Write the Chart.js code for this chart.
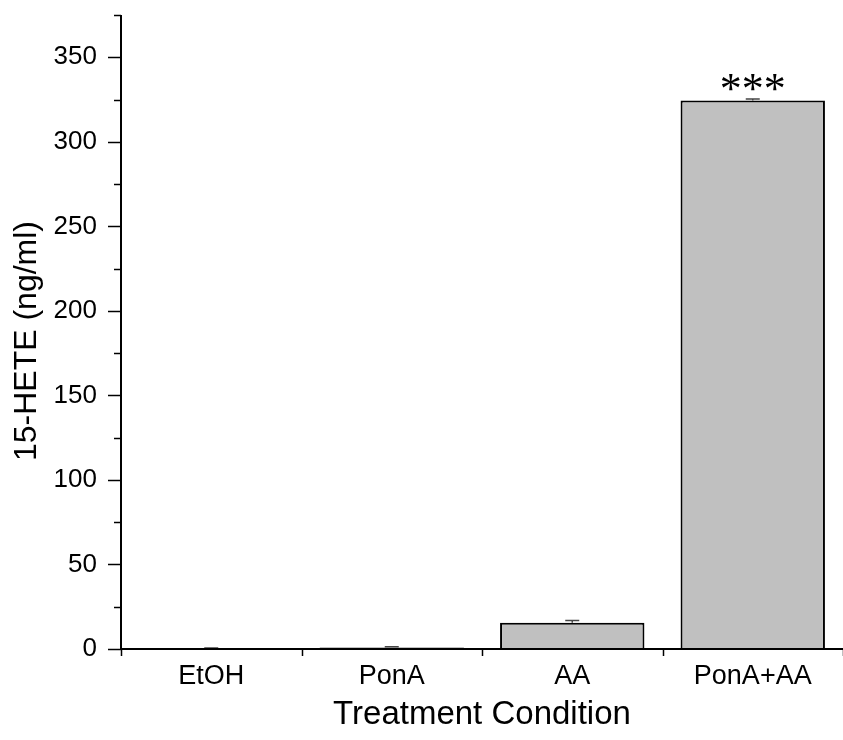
<!DOCTYPE html>
<html>
<head>
<meta charset="utf-8">
<script src="https://cdn.jsdelivr.net/npm/chart.js@4"></script>
<style>
  html, body { margin: 0; padding: 0; background: #fff; }
  #wrap { width: 843px; height: 740px; }
</style>
</head>
<body>
<div id="wrap"><canvas id="chart" width="843" height="740"></canvas></div>
<script>
// data
const categories = ['EtOH', 'PonA', 'AA', 'PonA+AA'];
const values = [0.4, 0.9, 15.5, 324.5];
const errors = [0.2, 0.5, 1.3, 0.8];
const stars = ['', '', '', '***'];
const yMax = 375;
const yTitle = '15-HETE (ng/ml)';

// axes, ticks, error bars, stars and the y title drawn on top
const extras = {
    id: 'extras',
    afterDatasetsDraw(chart) {
        const ctx = chart.ctx;
        const y = chart.scales.y;
        const area = chart.chartArea;
        ctx.save();

        // error bars (upper half, the lower half sits inside the bar)
        ctx.strokeStyle = '#444';
        ctx.lineWidth = 1.5;
        const meta = chart.getDatasetMeta(0);
        values.forEach((v, i) => {
            const cx = meta.data[i].x;
            const top = y.getPixelForValue(v + errors[i]);
            const mid = y.getPixelForValue(v);
            ctx.beginPath();
            ctx.moveTo(cx, mid); ctx.lineTo(cx, top);
            ctx.moveTo(cx - 7, top); ctx.lineTo(cx + 7, top);
            ctx.stroke();
        });

        // axis lines
        ctx.strokeStyle = '#000';
        ctx.lineWidth = 2;
        ctx.beginPath();
        ctx.moveTo(area.left, area.top);
        ctx.lineTo(area.left, area.bottom);
        ctx.lineTo(area.right, area.bottom);
        ctx.stroke();

        // y ticks: major every 50, minor in between
        ctx.lineWidth = 1.5;
        for (let v = 0; v <= yMax; v += 25) {
            const py = Math.round(y.getPixelForValue(v)) + 0.5;
            const len = v % 50 === 0 ? 13 : 7;
            ctx.beginPath();
            ctx.moveTo(area.left - len, py);
            ctx.lineTo(area.left, py);
            ctx.stroke();
        }

        // x ticks on category boundaries, pointing down
        const w = (area.right - area.left) / categories.length;
        for (let i = 0; i <= categories.length; i++) {
            const px = Math.round(area.left + i * w) + 0.5;
            ctx.beginPath();
            ctx.moveTo(px, area.bottom);
            ctx.lineTo(px, area.bottom + 7);
            ctx.stroke();
        }

        // significance stars
        ctx.fillStyle = '#000';
        ctx.font = '44px "Liberation Serif", serif';
        ctx.textAlign = 'center';
        ctx.textBaseline = 'alphabetic';
        stars.forEach((s, i) => {
            if (!s) return;
            const cx = meta.data[i].x;
            const py = y.getPixelForValue(values[i] + errors[i]);
            ctx.fillText(s, cx, py + 4);
        });

        // y title, a bit below the middle like the original
        ctx.font = '32px "Liberation Sans", sans-serif';
        ctx.textBaseline = 'middle';
        ctx.translate(27, (area.top + area.bottom) / 2 + 9);
        ctx.rotate(-Math.PI / 2);
        ctx.fillText(yTitle, 0, 0);
        ctx.restore();
    }
};

new Chart(document.getElementById('chart'), {
    type: 'bar',
    data: {
        labels: categories,
        datasets: [{
            data: values,
            backgroundColor: '#c0c0c0',
            borderColor: '#000',
            borderWidth: 2,
            barPercentage: 0.8,
            categoryPercentage: 1.0
        }]
    },
    options: {
        responsive: false,
        animation: false,
        layout: { padding: { top: 15, right: 0, left: 0, bottom: 0 } },
        plugins: { legend: { display: false }, tooltip: { enabled: false } },
        scales: {
            x: {
                grid: { display: false, drawTicks: false },
                border: { display: false },
                ticks: { color: '#000', font: { family: 'Liberation Sans', size: 27 }, padding: 11 },
                title: {
                    display: true, text: 'Treatment Condition', color: '#000',
                    font: { family: 'Liberation Sans', size: 33 }, padding: { top: 0, bottom: 5 }
                },
                afterFit(scale) { scale.height = 91; }
            },
            y: {
                min: 0,
                max: yMax,
                grid: { display: false, drawTicks: false },
                border: { display: false },
                afterBuildTicks(scale) { scale.ticks = scale.ticks.filter(t => t.value % 50 === 0); },
                ticks: {
                    stepSize: 50, color: '#000', padding: 24,
                    font: { family: 'Liberation Sans', size: 26 }
                },
                afterFit(scale) {
                    scale.width = 121;
                    scale.paddingTop = 0;
                    scale.paddingBottom = 0;
                }
            }
        }
    },
    plugins: [extras]
});
</script>
</body>
</html>
